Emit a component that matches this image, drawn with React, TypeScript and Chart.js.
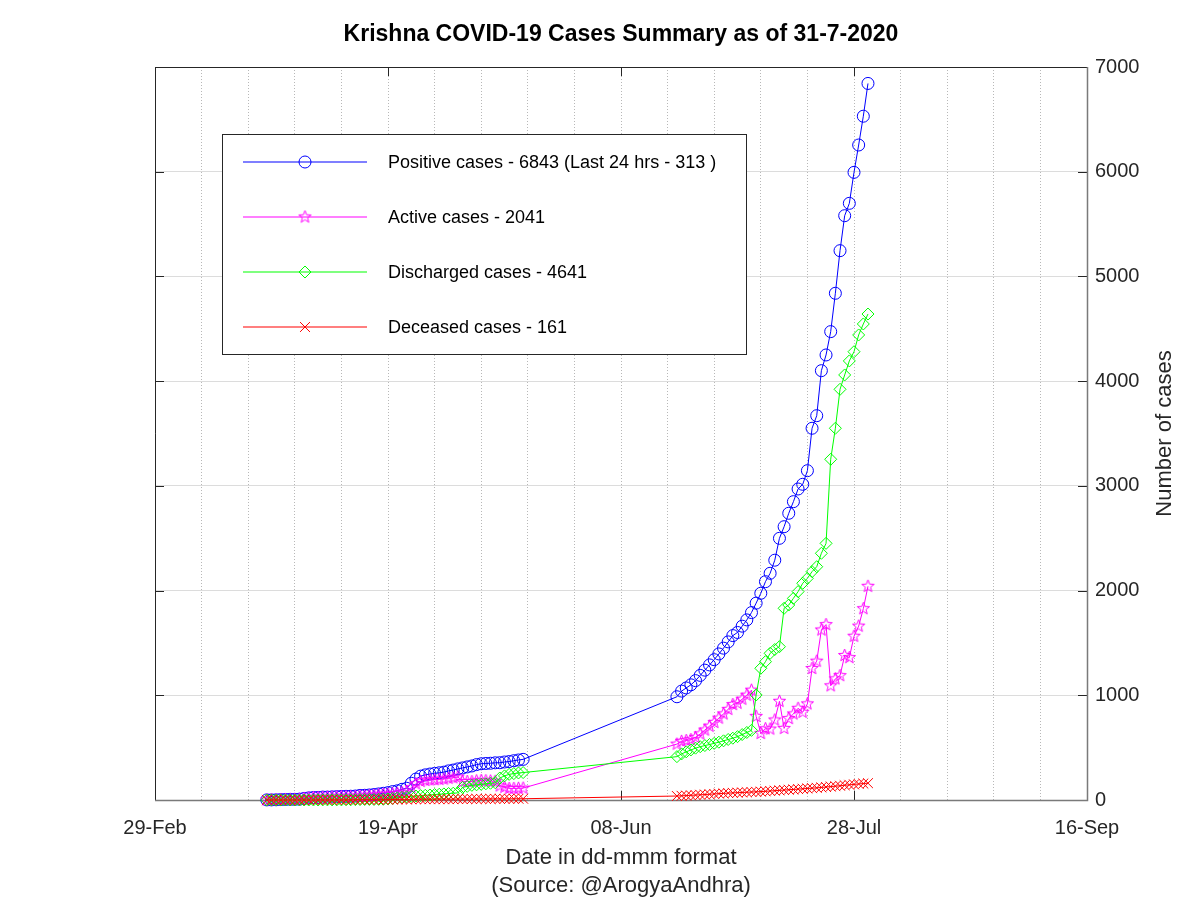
import React, { useEffect, useRef } from 'react';
import { Chart, registerables } from 'chart.js';

Chart.register(...registerables);

const TITLE = 'Krishna COVID-19 Cases Summary as of 31-7-2020';
const X_TITLE_LINES = ['Date in dd-mmm format', '(Source: @ArogyaAndhra)'];
const Y_TITLE = 'Number of cases';
const ORIGIN_DATE = '2020-02-29';
const X_TICK_DAYS = [0, 50, 100, 150, 200];
const X_TICK_LABELS = ['29-Feb', '19-Apr', '08-Jun', '28-Jul', '16-Sep'];
const Y_MAX = 7000;
const Y_STEP = 1000;

const LEGEND_LABELS = [
  'Positive cases - 6843 (Last 24 hrs - 313 )',
  'Active cases - 2041',
  'Discharged cases - 4641',
  'Deceased cases - 161',
];
const COLORS = ['#0000ff', '#ff00ff', '#00ff00', '#ff0000'];

const dates = [
  '2020-03-24', '2020-03-25', '2020-03-26', '2020-03-27', '2020-03-28', '2020-03-29', '2020-03-30', '2020-03-31',
  '2020-04-01', '2020-04-02', '2020-04-03', '2020-04-04', '2020-04-05', '2020-04-06', '2020-04-07', '2020-04-08', '2020-04-09', '2020-04-10',
  '2020-04-11', '2020-04-12', '2020-04-13', '2020-04-14', '2020-04-15', '2020-04-16', '2020-04-17', '2020-04-18', '2020-04-19', '2020-04-20',
  '2020-04-21', '2020-04-22', '2020-04-23', '2020-04-24', '2020-04-25', '2020-04-26', '2020-04-27', '2020-04-28', '2020-04-29', '2020-04-30',
  '2020-05-01', '2020-05-02', '2020-05-03', '2020-05-04', '2020-05-05', '2020-05-06', '2020-05-07', '2020-05-08', '2020-05-09',
  '2020-05-10', '2020-05-11', '2020-05-12', '2020-05-13', '2020-05-14', '2020-05-15', '2020-05-16', '2020-05-17', '2020-05-18',
  '2020-06-20', '2020-06-21', '2020-06-22', '2020-06-23', '2020-06-24', '2020-06-25', '2020-06-26', '2020-06-27', '2020-06-28', '2020-06-29', '2020-06-30',
  '2020-07-01', '2020-07-02', '2020-07-03', '2020-07-04', '2020-07-05', '2020-07-06',
  '2020-07-07', '2020-07-08', '2020-07-09', '2020-07-10', '2020-07-11', '2020-07-12',
  '2020-07-13', '2020-07-14', '2020-07-15', '2020-07-16', '2020-07-17', '2020-07-18', '2020-07-19', '2020-07-20', '2020-07-21', '2020-07-22',
  '2020-07-23', '2020-07-24', '2020-07-25', '2020-07-26', '2020-07-27', '2020-07-28', '2020-07-29', '2020-07-30', '2020-07-31',
];

const positive = [
  1, 1, 2, 4, 5, 6, 6, 8,
  15, 20, 24, 25, 28, 28, 30, 32, 34, 35,
  36, 38, 44, 45, 48, 52, 58, 64, 70, 80,
  88, 102, 112, 160, 200, 228, 240, 248, 254, 260,
  266, 278, 286, 297, 306, 316, 325, 338, 346,
  349, 351, 355, 356, 363, 367, 375, 382, 388,
  986, 1040, 1070, 1100, 1140, 1190, 1240, 1290, 1340, 1395, 1450,
  1510, 1570, 1600, 1660, 1720, 1790,
  1880, 1974, 2085, 2165, 2290, 2499,
  2610, 2738, 2849, 2970, 3015, 3145, 3550, 3670, 4100, 4250,
  4473, 4839, 5246, 5580, 5698, 5994, 6255, 6530, 6843,
];

const active = [
  1, 1, 2, 4, 5, 6, 6, 8,
  15, 20, 24, 24, 26, 26, 28, 30, 32, 32,
  33, 33, 38, 38, 41, 45, 50, 54, 56, 60,
  63, 71, 76, 118, 155, 178, 187, 192, 194, 197,
  200, 208, 213, 220, 177, 177, 176, 183, 186,
  184, 181, 179, 135, 122, 111, 111, 112, 114,
  534, 560, 568, 577, 598, 631, 668, 705, 741, 782, 822,
  866, 912, 925, 963, 1001, 1049,
  799, 636, 681, 678, 764, 943,
  684, 778, 822, 876, 838, 918, 1256, 1326, 1624, 1675,
  1091, 1157, 1188, 1380, 1360, 1564, 1661, 1827, 2041,
];

const discharged = [
  0, 0, 0, 0, 0, 0, 0, 0,
  0, 0, 0, 0, 1, 1, 1, 1, 1, 2,
  2, 3, 4, 5, 5, 5, 6, 7, 10, 15,
  20, 25, 30, 35, 38, 42, 45, 48, 52, 55,
  58, 62, 65, 68, 120, 130, 140, 145, 150,
  155, 160, 165, 210, 230, 245, 252, 258, 262,
  414, 440, 460, 478, 495, 509, 520, 530, 541, 552, 565,
  578, 590, 605, 625, 645, 665,
  1003, 1258, 1321, 1401, 1437, 1464,
  1831, 1862, 1926, 1990, 2070, 2117, 2181, 2228, 2356, 2451,
  3254, 3550, 3922, 4059, 4193, 4281, 4441, 4546, 4641,
];

const deceased = [
  0, 0, 0, 0, 0, 0, 0, 0,
  0, 0, 0, 1, 1, 1, 1, 1, 1, 1,
  1, 2, 2, 2, 2, 2, 2, 3, 4, 5,
  5, 6, 6, 7, 7, 8, 8, 8, 8, 8,
  8, 8, 8, 9, 9, 9, 9, 10, 10,
  10, 10, 11, 11, 11, 11, 12, 12, 12,
  38, 40, 42, 45, 47, 50, 52, 55, 58, 61, 63,
  66, 68, 70, 72, 74, 76,
  78, 80, 83, 86, 89, 92,
  95, 98, 101, 104, 107, 110, 113, 116, 120, 124,
  128, 132, 136, 141, 145, 149, 153, 157, 161,
];

const FONT = "'Liberation Sans', Arial, Helvetica, sans-serif";

function dayOf(d: string): number {
  return Math.round((Date.parse(d + 'T00:00:00Z') - Date.parse(ORIGIN_DATE + 'T00:00:00Z')) / 86400000);
}

function makeStar(color: string, R: number): HTMLCanvasElement {
  const size = Math.ceil(R * 2 + 4);
  const c = document.createElement('canvas');
  c.width = size;
  c.height = size;
  const g = c.getContext('2d')!;
  g.strokeStyle = color;
  g.lineWidth = 1;
  g.beginPath();
  const r = R * 0.42;
  for (let i = 0; i < 10; i++) {
    const ang = -Math.PI / 2 + (i * Math.PI) / 5;
    const rad = i % 2 === 0 ? R : r;
    const px = size / 2 + rad * Math.cos(ang);
    const py = size / 2 + rad * Math.sin(ang);
    if (i === 0) g.moveTo(px, py);
    else g.lineTo(px, py);
  }
  g.closePath();
  g.stroke();
  return c;
}

function drawMarker(ctx: CanvasRenderingContext2D, kind: number, x: number, y: number, color: string, star: HTMLCanvasElement) {
  ctx.save();
  ctx.strokeStyle = color;
  ctx.lineWidth = 1;
  ctx.beginPath();
  if (kind === 0) {
    ctx.arc(x, y, 6, 0, Math.PI * 2);
    ctx.stroke();
  } else if (kind === 1) {
    ctx.drawImage(star, x - star.width / 2, y - star.height / 2);
  } else if (kind === 2) {
    ctx.moveTo(x - 6, y);
    ctx.lineTo(x, y - 6);
    ctx.lineTo(x + 6, y);
    ctx.lineTo(x, y + 6);
    ctx.closePath();
    ctx.stroke();
  } else {
    const h = 7 * Math.SQRT1_2;
    ctx.moveTo(x - h, y - h);
    ctx.lineTo(x + h, y + h);
    ctx.moveTo(x + h, y - h);
    ctx.lineTo(x - h, y + h);
    ctx.stroke();
  }
  ctx.restore();
}

export default function App() {
  const ref = useRef<HTMLCanvasElement | null>(null);

  useEffect(() => {
    if (!ref.current) return;
    const star = makeStar(COLORS[1], 6.5);
    const days = dates.map(dayOf);
    const toPts = (vals: number[]) => vals.map((v, i) => ({ x: days[i], y: v }));

    const decor = {
      id: 'decor',
      beforeDraw(chart: any) {
        const { ctx } = chart;
        ctx.save();
        ctx.fillStyle = '#ffffff';
        ctx.fillRect(0, 0, chart.width, chart.height);
        ctx.restore();
      },
      beforeDatasetsDraw(chart: any) {
        const { ctx, chartArea: a } = chart;
        const xs = chart.scales.x;
        const ys = chart.scales.y;
        ctx.save();
        ctx.strokeStyle = '#262626';
        ctx.lineWidth = 1;
        ctx.beginPath();
        X_TICK_DAYS.forEach((d) => {
          const px = Math.round(xs.getPixelForValue(d)) + 0.5;
          ctx.moveTo(px, a.bottom);
          ctx.lineTo(px, a.bottom - 9);
          ctx.moveTo(px, a.top);
          ctx.lineTo(px, a.top + 9);
        });
        for (let v = 0; v <= Y_MAX; v += Y_STEP) {
          const py = Math.round(ys.getPixelForValue(v)) + 0.5;
          ctx.moveTo(a.left, py);
          ctx.lineTo(a.left + 9, py);
          ctx.moveTo(a.right, py);
          ctx.lineTo(a.right - 9, py);
        }
        ctx.stroke();
        ctx.strokeStyle = '#262626';
        ctx.beginPath();
        ctx.moveTo(Math.round(a.left) + 0.5, Math.round(a.bottom));
        ctx.lineTo(Math.round(a.left) + 0.5, Math.round(a.top) + 0.5);
        ctx.lineTo(Math.round(a.right), Math.round(a.top) + 0.5);
        ctx.stroke();
        ctx.strokeStyle = '#7a7a7a';
        ctx.lineWidth = 1.5;
        ctx.beginPath();
        ctx.moveTo(Math.round(a.left), Math.round(a.bottom) + 0.5);
        ctx.lineTo(Math.round(a.right) + 0.5, Math.round(a.bottom) + 0.5);
        ctx.lineTo(Math.round(a.right) + 0.5, Math.round(a.top));
        ctx.stroke();
        ctx.restore();
      },
      afterDraw(chart: any) {
        const { ctx, chartArea: a } = chart;
        ctx.save();
        const cx = (a.left + a.right) / 2;
        ctx.fillStyle = '#000000';
        ctx.textAlign = 'center';
        ctx.textBaseline = 'middle';
        ctx.font = `bold 23px ${FONT}`;
        ctx.fillText(TITLE, cx, 35);
        ctx.fillStyle = '#262626';
        ctx.font = `22px ${FONT}`;
        ctx.fillText(X_TITLE_LINES[0], cx, 858);
        ctx.fillText(X_TITLE_LINES[1], cx, 886);
        ctx.save();
        ctx.translate(1165, (a.top + a.bottom) / 2);
        ctx.rotate(-Math.PI / 2);
        ctx.fillText(Y_TITLE, 0, 0);
        ctx.restore();
        const lx = 222.5, ly = 134.5, lw = 524, lh = 220;
        ctx.fillStyle = '#ffffff';
        ctx.fillRect(lx, ly, lw, lh);
        ctx.strokeStyle = '#262626';
        ctx.lineWidth = 1;
        ctx.strokeRect(lx, ly, lw, lh);
        ctx.font = `18px ${FONT}`;
        ctx.textAlign = 'left';
        LEGEND_LABELS.forEach((label, i) => {
          const y = 162 + i * 55;
          ctx.save();
          ctx.strokeStyle = COLORS[i];
          ctx.lineWidth = 1.2;
          ctx.beginPath();
          ctx.moveTo(243, y);
          ctx.lineTo(367, y);
          ctx.stroke();
          ctx.restore();
          drawMarker(ctx, i, 305, y, COLORS[i], star);
          ctx.fillStyle = '#000000';
          ctx.fillText(label, 388, y + 1);
        });
        ctx.restore();
      },
    };

    const common = {
      backgroundColor: 'rgba(0,0,0,0)',
      pointBackgroundColor: 'rgba(0,0,0,0)',
      borderWidth: 1,
      pointBorderWidth: 1,
      tension: 0,
      clip: false as any,
    };

    const chart = new Chart(ref.current, {
      type: 'line',
      data: {
        datasets: [
          { ...common, label: LEGEND_LABELS[0], data: toPts(positive), borderColor: COLORS[0], pointBorderColor: COLORS[0], pointStyle: 'circle', pointRadius: 6, order: 3 },
          { ...common, label: LEGEND_LABELS[1], data: toPts(active), borderColor: COLORS[1], pointBorderColor: COLORS[1], pointStyle: star as any, pointRadius: 6, order: 2 },
          { ...common, label: LEGEND_LABELS[2], data: toPts(discharged), borderColor: COLORS[2], pointBorderColor: COLORS[2], pointStyle: 'rectRot', pointRadius: 6, order: 1 },
          { ...common, label: LEGEND_LABELS[3], data: toPts(deceased), borderColor: COLORS[3], pointBorderColor: COLORS[3], pointStyle: 'crossRot', pointRadius: 7, order: 0 },
        ],
      },
      options: {
        responsive: false,
        animation: false,
        events: [],
        layout: { padding: { left: 155, top: 67, right: 0, bottom: 0 } },
        plugins: { legend: { display: false }, title: { display: false }, tooltip: { enabled: false } },
        scales: {
          x: {
            type: 'linear',
            position: 'bottom',
            min: 0,
            max: 200,
            afterFit: (s: any) => { s.height = 100; },
            border: { display: false, dash: [1, 2] },
            grid: { color: '#b8b8b8', lineWidth: 1, drawTicks: false },
            ticks: {
              stepSize: 10,
              autoSkip: false,
              maxRotation: 0,
              padding: 16,
              color: '#262626',
              font: { size: 20, family: FONT },
              callback: (v: any) => {
                const idx = X_TICK_DAYS.indexOf(Number(v));
                return idx >= 0 ? X_TICK_LABELS[idx] : '';
              },
            },
          },
          y: {
            type: 'linear',
            position: 'right',
            min: 0,
            max: Y_MAX,
            afterFit: (s: any) => { s.width = 113; },
            border: { display: false },
            grid: { color: '#dcdcdc', lineWidth: 1, drawTicks: false },
            ticks: {
              stepSize: Y_STEP,
              padding: 8,
              color: '#262626',
              font: { size: 20, family: FONT },
              callback: (v: any) => String(v),
            },
          },
        },
      },
      plugins: [decor],
    });
    return () => chart.destroy();
  }, []);

  return (
    <div style={{ position: 'fixed', left: 0, top: 0, width: 1200, height: 900, background: '#fff' }}>
      <canvas ref={ref} width={1200} height={900} />
    </div>
  );
}
